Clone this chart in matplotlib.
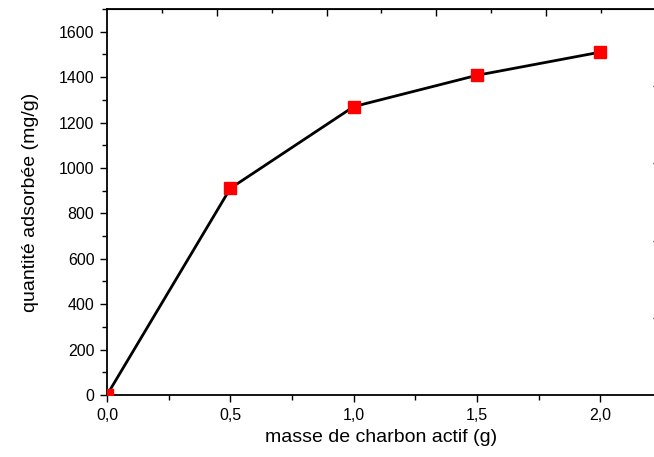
import matplotlib.pyplot as plt
from matplotlib.ticker import FixedLocator, FuncFormatter

plt.rcParams['font.family'] = ['Liberation Sans', 'DejaVu Sans']

# donnees
masse = [0.0, 0.5, 1.0, 1.5, 2.0]
quantite = [0, 910, 1270, 1408, 1510]

x_ticks = [0.0, 0.5, 1.0, 1.5, 2.0]
y_ticks = [0, 200, 400, 600, 800, 1000, 1200, 1400, 1600]

x_max = 2.226
y_max = 1700

fig = plt.figure(figsize=(6.54, 4.57), dpi=100)
ax = fig.add_axes([107/654, 62/457, 549/654, 386/457])

ax.plot(masse, quantite, color='black', lw=2.0, zorder=2)
ax.plot(masse, quantite, 's', color='red', ms=8.5, mec='red', zorder=3)

ax.set_xlim(0, x_max)
ax.set_ylim(0, y_max)

ax.xaxis.set_major_locator(FixedLocator(x_ticks))
ax.xaxis.set_minor_locator(FixedLocator([0.25, 0.75, 1.25, 1.75]))
ax.yaxis.set_major_locator(FixedLocator(y_ticks))
ax.yaxis.set_minor_locator(FixedLocator([v + 100 for v in y_ticks]))
ax.xaxis.set_major_formatter(FuncFormatter(lambda v, p: f'{v:.1f}'.replace('.', ',')))

ax.tick_params(which='major', direction='out', length=5, width=1, labelsize=11.5, pad=4)
ax.tick_params(which='minor', direction='out', length=3.3, width=1)
ax.tick_params(top=False, right=False)

for s in ax.spines.values():
    s.set_linewidth(1.3)

# axe du haut (ticks sans etiquettes)
top = ax.secondary_xaxis('top')
top.set_xticks([x_max / 10 * k for k in (2, 4, 6, 8)], labels=[])
top.xaxis.set_minor_locator(FixedLocator([x_max / 10 * k for k in (1, 3, 5, 7, 9)]))
top.tick_params(which='major', direction='in', length=5, width=1)
top.tick_params(which='minor', direction='in', length=3, width=1)

# axe de droite
right = ax.secondary_yaxis('right')
right.set_yticks([y_max / 5 * k for k in (1, 2, 3, 4)], labels=[])
right.tick_params(direction='in', length=2, width=1)

ax.set_xlabel('masse de charbon actif (g)', fontsize=14, labelpad=5)
ax.set_ylabel('quantité adsorbée (mg/g)', fontsize=14, labelpad=14)

fig.savefig('out.png', dpi=100)
